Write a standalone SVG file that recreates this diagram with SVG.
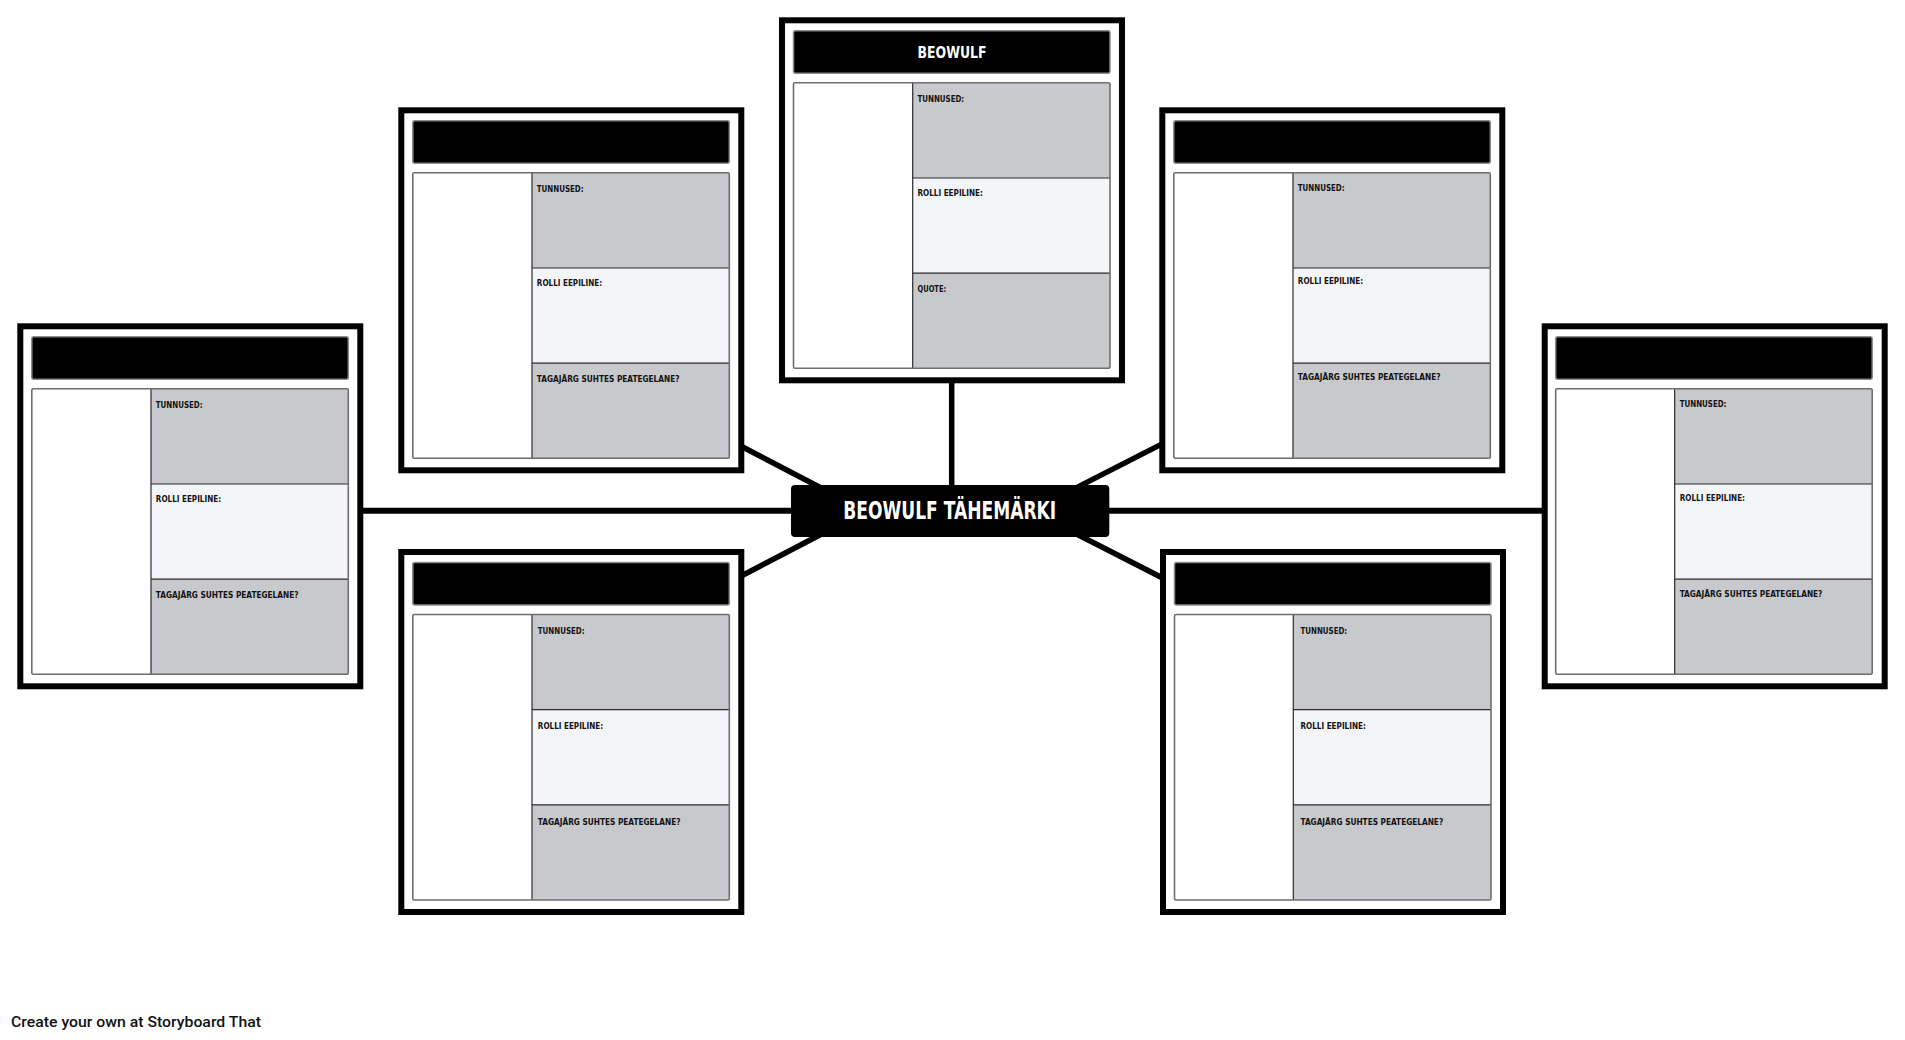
<svg xmlns="http://www.w3.org/2000/svg" width="1905" height="1040" viewBox="0 0 1905 1040">
<style>
.bg{fill:#ffffff}
.conn{stroke:#000;stroke-width:6;fill:none}
.diag{stroke:#000;stroke-width:5.5;fill:none}
.frame{fill:#fff;stroke:#000;stroke-width:6}
.hdr{fill:#000;stroke:#8a8a8a;stroke-width:1.5}
.cbox{fill:#fff;stroke:none}
.cborder{fill:none;stroke:#6e6e6e;stroke-width:1.6}
.g{fill:#c7c9cc}
.l{fill:#f4f5f9}
.div{stroke:#2a2a2a;stroke-width:1.2}
.lbl{font-family:"DejaVu Sans Condensed","DejaVu Sans",sans-serif;font-stretch:condensed;font-weight:bold;font-size:8.7px;fill:#111}
.ttl{font-family:"DejaVu Sans Condensed","DejaVu Sans",sans-serif;font-stretch:condensed;font-weight:bold;fill:#fff}
.foot{font-family:Roboto,"Liberation Sans",sans-serif;font-weight:500;font-size:14px;fill:#111}
</style>
<rect class="bg" x="0" y="0" width="1905" height="1040"/>
<g id="connectors">
<line class="conn" x1="360" y1="510.7" x2="1545" y2="510.7"/>
<line class="conn" x1="951.7" y1="380" x2="951.7" y2="490" style="stroke-width:5.5"/>
<line class="diag" x1="735" y1="443" x2="825" y2="490"/>
<line class="diag" x1="735" y1="579.3" x2="825" y2="532.3"/>
<line class="diag" x1="1076" y1="487.9" x2="1168" y2="440.9"/>
<line class="diag" x1="1076" y1="533.8" x2="1168" y2="580.8"/>
</g>
<g id="card-left" transform="translate(17.3,323.3)">
<rect class="frame" x="3" y="3" width="340" height="360"/>
<rect class="hdr" x="14.5" y="13.5" width="316.5" height="42.5" rx="2"/>
<rect class="cbox" x="14.5" y="65.5" width="316.5" height="285.5"/>
<rect class="g" x="133.7" y="65.5" width="197.3" height="95.2"/>
<rect class="l" x="133.7" y="160.7" width="197.3" height="95.2"/>
<rect class="g" x="133.7" y="255.9" width="197.3" height="95.1"/>
<line class="div" x1="133.7" y1="65.5" x2="133.7" y2="351"/>
<line class="div" x1="133.7" y1="160.7" x2="331" y2="160.7"/>
<line class="div" x1="133.7" y1="255.9" x2="331" y2="255.9"/>
<rect class="cborder" x="14.5" y="65.5" width="316.5" height="285.5" rx="1.5"/>
<text class="lbl" x="138.5" y="84.5" textLength="46.7" lengthAdjust="spacingAndGlyphs">TUNNUSED:</text>
<text class="lbl" x="138.5" y="179" textLength="65.3" lengthAdjust="spacingAndGlyphs">ROLLI EEPILINE:</text>
<text class="lbl" x="138.5" y="275" textLength="142.7" lengthAdjust="spacingAndGlyphs">TAGAJÄRG SUHTES PEATEGELANE?</text>
</g>
<g id="card-top-left" transform="translate(398.3,107.3)">
<rect class="frame" x="3" y="3" width="340" height="360"/>
<rect class="hdr" x="14.5" y="13.5" width="316.5" height="42.5" rx="2"/>
<rect class="cbox" x="14.5" y="65.5" width="316.5" height="285.5"/>
<rect class="g" x="133.7" y="65.5" width="197.3" height="95.2"/>
<rect class="l" x="133.7" y="160.7" width="197.3" height="95.2"/>
<rect class="g" x="133.7" y="255.9" width="197.3" height="95.1"/>
<line class="div" x1="133.7" y1="65.5" x2="133.7" y2="351"/>
<line class="div" x1="133.7" y1="160.7" x2="331" y2="160.7"/>
<line class="div" x1="133.7" y1="255.9" x2="331" y2="255.9"/>
<rect class="cborder" x="14.5" y="65.5" width="316.5" height="285.5" rx="1.5"/>
<text class="lbl" x="138.5" y="84.5" textLength="46.7" lengthAdjust="spacingAndGlyphs">TUNNUSED:</text>
<text class="lbl" x="138.5" y="179" textLength="65.3" lengthAdjust="spacingAndGlyphs">ROLLI EEPILINE:</text>
<text class="lbl" x="138.5" y="275" textLength="142.7" lengthAdjust="spacingAndGlyphs">TAGAJÄRG SUHTES PEATEGELANE?</text>
</g>
<g id="card-top" transform="translate(779,17.3)">
<rect class="frame" x="3" y="3" width="340" height="360"/>
<rect class="hdr" x="14.5" y="13.5" width="316.5" height="42.5" rx="2"/>
<text class="ttl" x="173" y="41" font-size="16" text-anchor="middle" textLength="69" lengthAdjust="spacingAndGlyphs">BEOWULF</text>
<rect class="cbox" x="14.5" y="65.5" width="316.5" height="285.5"/>
<rect class="g" x="133.7" y="65.5" width="197.3" height="95.2"/>
<rect class="l" x="133.7" y="160.7" width="197.3" height="95.2"/>
<rect class="g" x="133.7" y="255.9" width="197.3" height="95.1"/>
<line class="div" x1="133.7" y1="65.5" x2="133.7" y2="351"/>
<line class="div" x1="133.7" y1="160.7" x2="331" y2="160.7"/>
<line class="div" x1="133.7" y1="255.9" x2="331" y2="255.9"/>
<rect class="cborder" x="14.5" y="65.5" width="316.5" height="285.5" rx="1.5"/>
<text class="lbl" x="138.5" y="84.5" textLength="46.7" lengthAdjust="spacingAndGlyphs">TUNNUSED:</text>
<text class="lbl" x="138.5" y="179" textLength="65.3" lengthAdjust="spacingAndGlyphs">ROLLI EEPILINE:</text>
<text class="lbl" x="138.5" y="275" textLength="28.7" lengthAdjust="spacingAndGlyphs">QUOTE:</text>
</g>
<g id="card-top-right" transform="translate(1159.3,107.3)">
<rect class="frame" x="3" y="3" width="340" height="360"/>
<rect class="hdr" x="14.5" y="13.5" width="316.5" height="42.5" rx="2"/>
<rect class="cbox" x="14.5" y="65.5" width="316.5" height="285.5"/>
<rect class="g" x="133.7" y="65.5" width="197.3" height="95.2"/>
<rect class="l" x="133.7" y="160.7" width="197.3" height="95.2"/>
<rect class="g" x="133.7" y="255.9" width="197.3" height="95.1"/>
<line class="div" x1="133.7" y1="65.5" x2="133.7" y2="351"/>
<line class="div" x1="133.7" y1="160.7" x2="331" y2="160.7"/>
<line class="div" x1="133.7" y1="255.9" x2="331" y2="255.9"/>
<rect class="cborder" x="14.5" y="65.5" width="316.5" height="285.5" rx="1.5"/>
<text class="lbl" x="138.5" y="83.5" textLength="46.7" lengthAdjust="spacingAndGlyphs">TUNNUSED:</text>
<text class="lbl" x="138.5" y="177" textLength="65.3" lengthAdjust="spacingAndGlyphs">ROLLI EEPILINE:</text>
<text class="lbl" x="138.5" y="273" textLength="142.7" lengthAdjust="spacingAndGlyphs">TAGAJÄRG SUHTES PEATEGELANE?</text>
</g>
<g id="card-right" transform="translate(1541.7,323.3)">
<rect class="frame" x="3" y="3" width="340" height="360"/>
<rect class="hdr" x="14" y="13.5" width="316.5" height="42.5" rx="2"/>
<rect class="cbox" x="14" y="65.5" width="316.5" height="285.5"/>
<rect class="g" x="133" y="65.5" width="197.5" height="95.2"/>
<rect class="l" x="133" y="160.7" width="197.5" height="95.2"/>
<rect class="g" x="133" y="255.9" width="197.5" height="95.1"/>
<line class="div" x1="133" y1="65.5" x2="133" y2="351"/>
<line class="div" x1="133" y1="160.7" x2="330.5" y2="160.7"/>
<line class="div" x1="133" y1="255.9" x2="330.5" y2="255.9"/>
<rect class="cborder" x="14" y="65.5" width="316.5" height="285.5" rx="1.5"/>
<text class="lbl" x="138" y="84" textLength="46.7" lengthAdjust="spacingAndGlyphs">TUNNUSED:</text>
<text class="lbl" x="138" y="178" textLength="65.3" lengthAdjust="spacingAndGlyphs">ROLLI EEPILINE:</text>
<text class="lbl" x="138" y="274" textLength="142.7" lengthAdjust="spacingAndGlyphs">TAGAJÄRG SUHTES PEATEGELANE?</text>
</g>
<g id="card-bottom-left" transform="translate(398.3,549)">
<rect class="frame" x="3" y="3" width="340" height="360"/>
<rect class="hdr" x="14.5" y="13.5" width="316.5" height="42.5" rx="2"/>
<rect class="cbox" x="14.5" y="65.5" width="316.5" height="285.5"/>
<rect class="g" x="133.7" y="65.5" width="197.3" height="95.2"/>
<rect class="l" x="133.7" y="160.7" width="197.3" height="95.2"/>
<rect class="g" x="133.7" y="255.9" width="197.3" height="95.1"/>
<line class="div" x1="133.7" y1="65.5" x2="133.7" y2="351"/>
<line class="div" x1="133.7" y1="160.7" x2="331" y2="160.7"/>
<line class="div" x1="133.7" y1="255.9" x2="331" y2="255.9"/>
<rect class="cborder" x="14.5" y="65.5" width="316.5" height="285.5" rx="1.5"/>
<text class="lbl" x="139.5" y="84.5" textLength="46.7" lengthAdjust="spacingAndGlyphs">TUNNUSED:</text>
<text class="lbl" x="139.5" y="179.5" textLength="65.3" lengthAdjust="spacingAndGlyphs">ROLLI EEPILINE:</text>
<text class="lbl" x="139.5" y="275.5" textLength="142.7" lengthAdjust="spacingAndGlyphs">TAGAJÄRG SUHTES PEATEGELANE?</text>
</g>
<g id="card-bottom-right" transform="translate(1160,549)">
<rect class="frame" x="3" y="3" width="340" height="360"/>
<rect class="hdr" x="14.5" y="13.5" width="316.5" height="42.5" rx="2"/>
<rect class="cbox" x="14.5" y="65.5" width="316.5" height="285.5"/>
<rect class="g" x="133.3" y="65.5" width="197.7" height="95.2"/>
<rect class="l" x="133.3" y="160.7" width="197.7" height="95.2"/>
<rect class="g" x="133.3" y="255.9" width="197.7" height="95.1"/>
<line class="div" x1="133.3" y1="65.5" x2="133.3" y2="351"/>
<line class="div" x1="133.3" y1="160.7" x2="331" y2="160.7"/>
<line class="div" x1="133.3" y1="255.9" x2="331" y2="255.9"/>
<rect class="cborder" x="14.5" y="65.5" width="316.5" height="285.5" rx="1.5"/>
<text class="lbl" x="140.5" y="84.5" textLength="46.7" lengthAdjust="spacingAndGlyphs">TUNNUSED:</text>
<text class="lbl" x="140.5" y="179.5" textLength="65.3" lengthAdjust="spacingAndGlyphs">ROLLI EEPILINE:</text>
<text class="lbl" x="140.5" y="275.5" textLength="142.7" lengthAdjust="spacingAndGlyphs">TAGAJÄRG SUHTES PEATEGELANE?</text>
</g>
<g id="center">
<rect x="791" y="485" width="318.3" height="52" rx="4" fill="#000"/>
<text class="ttl" x="949.7" y="518.7" font-size="24" text-anchor="middle" textLength="213" lengthAdjust="spacingAndGlyphs">BEOWULF TÄHEMÄRKI</text>
</g>
<text class="foot" x="11" y="1026.7" textLength="250" lengthAdjust="spacingAndGlyphs">Create your own at Storyboard That</text>
</svg>
